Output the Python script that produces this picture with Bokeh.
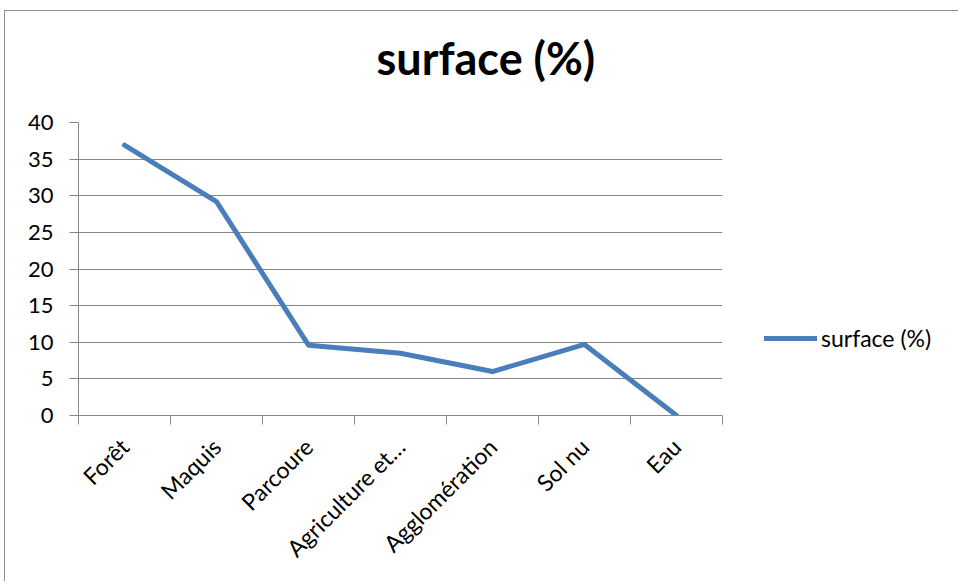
from bokeh.plotting import figure
from bokeh.models import FixedTicker, Legend, LegendItem, Title
from bokeh.embed import file_html
from bokeh.resources import INLINE
import math

categories = ["Forêt", "Maquis", "Parcoure", "Agriculture et…", "Agglomération", "Sol nu", "Eau"]
surface = [36.9, 29.2, 9.6, 8.5, 6.0, 9.7, 0.0]
y_ticks = [0, 5, 10, 15, 20, 25, 30, 35, 40]
series_name = "surface (%)"

FONT = "Lato"
GRID = "#868686"
BLUE = "#4a7ebb"
EDGE = "#8c8c8c"

xs = [i + 0.5 for i in range(len(categories))]

p = figure(frame_width=644, frame_height=293, output_backend="svg", toolbar_location=None,
           x_range=(0, len(categories)), y_range=(0, 40),
           min_border_left=78, min_border_right=234, min_border_top=133, min_border_bottom=166)
p.styles = {
    "margin-top": "-11px",
    "background": (f"linear-gradient({EDGE}, {EDGE}) 4px 21px / 1px 100% no-repeat, "
                   f"linear-gradient({EDGE}, {EDGE}) 4px 21px / 100% 1px no-repeat, white"),
}
p.outline_line_color = None
p.background_fill_color = "white"
p.border_fill_color = None

r = p.line(xs, surface, line_color=BLUE, line_width=5, line_join="round", line_cap="round")

t = Title(text=series_name, text_font=FONT, text_font_size="45px", text_font_style="bold",
          text_color="black", align="left", offset=298, standoff=76)
p.add_layout(t, "above")

# y axis
p.yaxis.ticker = FixedTicker(ticks=y_ticks)
p.yaxis.minor_tick_line_color = None
p.yaxis.major_tick_out = 9
p.yaxis.major_tick_in = 0
p.yaxis.axis_line_color = GRID
p.yaxis.major_tick_line_color = GRID
p.yaxis.major_label_text_font = FONT
p.yaxis.major_label_text_font_size = "22px"
p.yaxis.major_label_text_color = "black"
p.yaxis.major_label_standoff = 16

# x axis
p.xaxis.ticker = FixedTicker(ticks=xs, minor_ticks=list(range(len(categories) + 1)))
p.xaxis.major_label_overrides = {x: c for x, c in zip(xs, categories)}
p.xaxis.major_tick_out = 0
p.xaxis.major_tick_in = 0
p.xaxis.minor_tick_out = 9
p.xaxis.minor_tick_in = 0
p.xaxis.minor_tick_line_color = GRID
p.xaxis.axis_line_color = GRID
p.xaxis.major_label_orientation = math.pi / 4
p.xaxis.major_label_text_font = FONT
p.xaxis.major_label_text_font_size = "23px"
p.xaxis.major_label_text_color = "black"
p.xaxis.major_label_standoff = 18

p.xgrid.grid_line_color = None
p.ygrid.ticker = FixedTicker(ticks=y_ticks)
p.ygrid.grid_line_color = GRID
p.ygrid.grid_line_width = 1

legend = Legend(items=[LegendItem(label=series_name, renderers=[r])],
                location=(42, 63), orientation="vertical",
                label_text_font=FONT, label_text_font_size="23px", label_text_color="black",
                glyph_width=53, glyph_height=24, label_standoff=4,
                border_line_color=None, background_fill_alpha=0, padding=0, margin=0)
p.add_layout(legend, "right")

open("out.html", "w").write(file_html(p, INLINE))
